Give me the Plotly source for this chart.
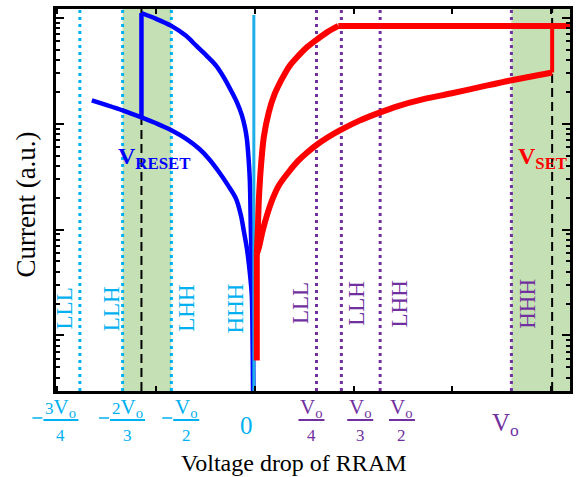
import plotly.graph_objects as go

# ---------------- data (schematic units: x in tick units, current in a.u.) ----------------
blue_lower_v = [-1.652, -1.500, -1.340, -1.149, -1.000, -0.846, -0.695, -0.564, -0.460, -0.363, -0.270, -0.191, -0.140, -0.111, -0.080, -0.060, -0.040, -0.030, -0.015]
blue_lower_i = [166, 150, 134, 115, 101, 87, 72, 58, 46, 35, 26, 19.6, 13.5, 9.6, 6.6, 4.7, 3.1, 2.3, 0.1]

blue_upper_v = [-1.149, -1.000, -0.846, -0.700, -0.594, -0.490, -0.393, -0.310, -0.232, -0.180, -0.131, -0.100, -0.081, -0.062, -0.050, -0.040, -0.030, -0.020, -0.015]
blue_upper_i = [1112, 980, 840, 680, 546, 440, 354, 270, 198, 158, 120, 92, 72, 45, 28, 9.6, 4.7, 2.3, 0.1]
blue_jump_v = [-1.149, -1.149]
blue_jump_i = [115, 1112]

red_stem_v = [0.020, 0.020]
red_stem_i = [0.58, 5.9]

red_upper_v = [0.020, 0.030, 0.040, 0.060, 0.091, 0.141, 0.200, 0.272, 0.350, 0.443, 0.530, 0.625, 0.730, 0.846]
red_upper_i = [5.9, 9.6, 18.4, 37.6, 75, 128, 190, 262, 350, 440, 530, 621, 730, 840]
red_flat_v = [0.846, 3.30]
red_flat_i = [840, 840]

red_lower_v = [0.020, 0.040, 0.080, 0.121, 0.180, 0.242, 0.343, 0.443, 0.530, 0.625, 0.740, 0.866, 1.060, 1.270, 1.451, 1.700, 1.985, 2.300, 2.589, 3.013]
red_lower_i = [5.9, 6.7, 9.8, 13.5, 19.5, 26, 35, 45, 53.5, 63, 74.5, 87, 107, 128, 147, 170, 193, 224, 256, 305]
red_jump_v = [3.013, 3.013]
red_jump_i = [305, 840]

zero_v = [-0.010, -0.010]
zero_i = [1064, 0.1]

neg_levels = [-1.773, -1.340, -0.846]          # -3Vo/4, -2Vo/3, -Vo/2
pos_levels = [0.625, 0.877, 1.270, 2.600]       # Vo/4, Vo/3, Vo/2, Vo
v_reset = -1.149
v_set = 3.013
green_bands = [(-1.340, -0.846), (2.600, 3.30)]

neg_state_labels = ["LLL", "LLH", "LHH", "HHH"]
neg_state_x = [-1.924, -1.451, -0.695, -0.191]
pos_state_labels = ["LLL", "LLH", "LHH", "HHH"]
pos_state_x = [0.463, 1.028, 1.471, 2.761]

CYAN = "#00b0f0"
PURPLE = "#7030a0"
frac_x = [-1.965, -1.290, -0.695, 0.574, 1.068, 1.491]
frac_num = ["<span style='font-size:17px'>3</span>V<sub>o</sub>",
            "<span style='font-size:17px'>2</span>V<sub>o</sub>",
            "V<sub>o</sub>", "V<sub>o</sub>", "V<sub>o</sub>", "V<sub>o</sub>"]
frac_den = ["4", "3", "2", "4", "3", "2"]
frac_neg = [True, True, True, False, False, False]
frac_half = [17.5, 17.5, 13, 13, 13, 13]
zero_label_x = -0.081
vo_label_x = 2.539

XMIN, XMAX = -2.015, 3.194
YMIN, YMAX = -0.525, 3.084

FONT = "Liberation Serif"


def xpaper(v):
    return (v - XMIN) / (XMAX - XMIN)


fig = go.Figure()

BLUE = "#0000ff"
RED = "#ff0000"


def add_line(xs, ys, color, width, spline=False):
    fig.add_trace(go.Scatter(x=xs, y=ys, mode="lines",
                             line=dict(color=color, width=width,
                                       shape="spline" if spline else "linear",
                                       smoothing=0.8 if spline else None)))


add_line(blue_lower_v, blue_lower_i, BLUE, 4.5, True)
add_line(blue_upper_v, blue_upper_i, BLUE, 4.5, True)
add_line(blue_jump_v, blue_jump_i, BLUE, 4.5)
add_line(zero_v, zero_i, "#1eaee8", 3)
add_line(red_stem_v, red_stem_i, RED, 6)
add_line(red_upper_v, red_upper_i, RED, 6, True)
add_line(red_flat_v, red_flat_i, RED, 6)
add_line(red_lower_v, red_lower_i, RED, 6, True)
add_line(red_jump_v, red_jump_i, RED, 4)

shapes = []
for a, b in green_bands:
    shapes.append(dict(type="rect", xref="x", yref="paper", x0=a, x1=b, y0=0, y1=1,
                       fillcolor="#c5e0b4", line=dict(width=0), layer="below"))
for v in neg_levels:
    shapes.append(dict(type="line", xref="x", yref="paper", x0=v, x1=v, y0=0, y1=1,
                       line=dict(color=CYAN, width=3, dash="3px,4px"), layer="below"))
for v in pos_levels:
    shapes.append(dict(type="line", xref="x", yref="paper", x0=v, x1=v, y0=0, y1=1,
                       line=dict(color=PURPLE, width=3, dash="3px,4px"), layer="below"))
for v in (v_reset, v_set):
    shapes.append(dict(type="line", xref="x", yref="paper", x0=v, x1=v, y0=0, y1=1,
                       line=dict(color="black", width=2, dash="9px,5px"), layer="below"))

annotations = []
for lab, x in zip(neg_state_labels, neg_state_x):
    annotations.append(dict(text=lab, x=x, xref="x", y=0.216, yref="paper", showarrow=False,
                            xanchor="center", yanchor="middle",
                            textangle=-90, font=dict(family=FONT, size=23, color=CYAN)))
for lab, x in zip(pos_state_labels, pos_state_x):
    annotations.append(dict(text=lab, x=x, xref="x", y=0.229, yref="paper", showarrow=False,
                            xanchor="center", yanchor="middle",
                            textangle=-90, font=dict(family=FONT, size=23, color=PURPLE)))

annotations.append(dict(text="<b>V<sub>RESET</sub></b>", x=-1.018, xref="x", y=0.61, yref="paper",
                        xanchor="center", yanchor="middle",
                        showarrow=False, font=dict(family=FONT, size=24, color=BLUE)))
annotations.append(dict(text="<b>V<sub>SET</sub></b>", x=2.912, xref="x", y=0.61, yref="paper",
                        xanchor="center", yanchor="middle",
                        showarrow=False, font=dict(family=FONT, size=24, color=RED)))

for x, num, den, neg, half in zip(frac_x, frac_num, frac_den, frac_neg, frac_half):
    col = CYAN if neg else PURPLE
    annotations.append(dict(text=num, x=x, xref="x", y=0, yref="paper", yshift=-17,
                            xanchor="center", yanchor="middle", showarrow=False,
                            font=dict(family=FONT, size=21, color=col)))
    annotations.append(dict(text=den, x=x, xref="x", y=0, yref="paper", yshift=-44,
                            xanchor="center", yanchor="middle", showarrow=False,
                            font=dict(family=FONT, size=17, color=col)))
    shapes.append(dict(type="line", xref="paper", xsizemode="pixel", xanchor=xpaper(x),
                       x0=-half, x1=half, yref="paper", ysizemode="pixel", yanchor=0,
                       y0=-29, y1=-29, line=dict(color=col, width=2)))
    if neg:
        shapes.append(dict(type="line", xref="paper", xsizemode="pixel", xanchor=xpaper(x),
                           x0=-half - 11, x1=-half - 1, yref="paper", ysizemode="pixel", yanchor=0,
                           y0=-27, y1=-27, line=dict(color=col, width=1.5)))

annotations.append(dict(text="0", x=zero_label_x, xref="x", y=0, yref="paper", yshift=-34,
                        xanchor="center", yanchor="middle", showarrow=False,
                        font=dict(family=FONT, size=25, color=CYAN)))
annotations.append(dict(text="V<sub>o</sub>", x=vo_label_x, xref="x", y=0, yref="paper", yshift=-33,
                        xanchor="center", yanchor="middle", showarrow=False,
                        font=dict(family=FONT, size=25, color=PURPLE)))

annotations.append(dict(text="Voltage drop of RRAM", x=xpaper(0.40), xref="paper", y=0, yref="paper",
                        yshift=-72, xanchor="center", yanchor="middle", showarrow=False,
                        font=dict(family=FONT, size=24, color="black")))
annotations.append(dict(text="Current (a.u.)", x=0, xref="paper", xshift=-30, y=0.488, yref="paper",
                        xanchor="center", yanchor="middle",
                        textangle=-90, showarrow=False, font=dict(family=FONT, size=27, color="black")))

fig.update_layout(
    width=579, height=477,
    margin=dict(l=56, r=6, t=6, b=86),
    paper_bgcolor="white", plot_bgcolor="white",
    showlegend=False,
    shapes=shapes, annotations=annotations,
    xaxis=dict(range=[XMIN, XMAX], showgrid=False, zeroline=False, showticklabels=False,
               tick0=0, dtick=1, ticks="inside", ticklen=5, tickwidth=2, tickcolor="black",
               showline=True, linecolor="black", linewidth=2.5, mirror="allticks"),
    yaxis=dict(type="log", range=[YMIN, YMAX], showgrid=False, zeroline=False, showticklabels=False,
               dtick=1, ticks="inside", ticklen=8, tickwidth=2, tickcolor="black",
               minor=dict(ticks="inside", ticklen=4, tickwidth=1.5, tickcolor="black", dtick="D1",
                          showgrid=False),
               showline=True, linecolor="black", linewidth=2.5, mirror="allticks"),
)

fig.write_html("out.html")
